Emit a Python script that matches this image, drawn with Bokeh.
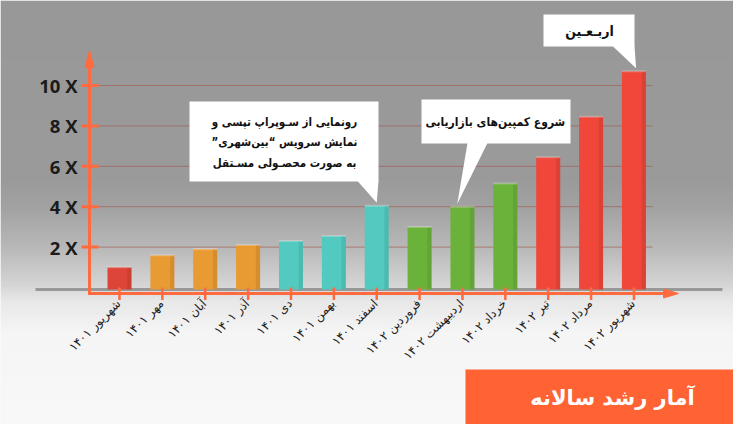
import math
import numpy as np
from bokeh.plotting import figure
from bokeh.models import Range1d, ColumnDataSource
from bokeh.core.properties import value
from bokeh.embed import file_html
from bokeh.resources import INLINE

# ---------------- data ----------------
months = ["شهریور ۱۴۰۱", "مهر ۱۴۰۱", "آبان ۱۴۰۱", "آذر ۱۴۰۱", "دی ۱۴۰۱",
          "بهمن ۱۴۰۱", "اسفند ۱۴۰۱", "فروردین ۱۴۰۲", "اردیبهشت ۱۴۰۲",
          "خرداد ۱۴۰۲", "تیر ۱۴۰۲", "مرداد ۱۴۰۲", "شهریور ۱۴۰۲"]
growth = [1.0, 1.6, 1.9, 2.1, 2.3, 2.55, 4.05, 3.0, 4.0, 5.15, 6.45, 8.45, 10.7]
bar_colors = ["#dc4537", "#e89a33", "#e89a33", "#e89a33", "#52cabf", "#52cabf",
              "#52cabf", "#6bb23a", "#6bb23a", "#6bb23a", "#f0473a", "#f0473a", "#f0473a"]
y_ticks = [2, 4, 6, 8, 10]
y_tick_labels = ["2 X", "4 X", "6 X", "8 X", "10 X"]
title = "آمار رشد سالانه"
RLM = "\u200f"
note1 = [RLM + "رونمایی از سـوپراپ تپسی و" + RLM,
         RLM + "نمایش سرویس “بین\u200cشهری”" + RLM,
         RLM + "به صورت محصـولی مسـتقل" + RLM]
note2 = "شروع کمپین\u200cهای بازاریابی"
note3 = "اربـعـین"
note_bars = [6, 8, 12]

# ---------------- pixel helpers (layout only) ----------------
W, H = 733, 424
X0, DX = 119.0, 42.87
Y0, DY = 287.0, 20.2


def X(px):
    return (px - X0) / DX


def Y(py):
    return (Y0 - py) / DY


AX = "#ff6a3e"
PFONT = value("DejaVu Sans")
CFONT = value("DejaVu Sans Condensed")

p = figure(width=W, height=H, x_range=Range1d(X(0), X(W)), y_range=Range1d(Y(H), Y(0)),
           min_border=0, toolbar_location=None, output_backend="svg",
           x_axis_location=None, y_axis_location=None)
p.outline_line_color = None
p.xgrid.visible = False
p.ygrid.visible = False
p.background_fill_color = "#f8f8f8"
p.border_fill_color = "#f8f8f8"

# ---------------- background gradient ----------------
anchors_y = [0, 180, 206, 246, 285, 300, 330, 424]
anchors_g = [152, 155, 162, 184, 214, 232, 245, 249]
rows = np.arange(H)[::-1]  # row 0 = bottom pixel
g = np.interp(rows + 0.5, anchors_y, anchors_g).astype(np.uint32)
img = np.zeros((H, 1), dtype=np.uint32)
view = img.view(dtype=np.uint8).reshape((H, 1, 4))
view[:, 0, 0] = g
view[:, 0, 1] = g
view[:, 0, 2] = g
view[:, 0, 3] = 255
p.image_rgba(image=[img], x=X(0), y=Y(H), dw=X(W) - X(0), dh=Y(0) - Y(H))

# ---------------- grid lines ----------------
p.segment(x0=X(98), x1=X(652), y0=y_ticks, y1=y_ticks, line_color="#a0675f",
          line_width=1, line_alpha=0.8)

# floor shadow
p.segment(x0=[X(35)], x1=[X(722)], y0=[Y(289)], y1=[Y(289)], line_color="#7c7c7c",
          line_width=3, line_alpha=0.7)

# ---------------- bars ----------------
idx = list(range(len(months)))
src = ColumnDataSource(dict(x=idx, top=growth, color=bar_colors, month=months))
p.vbar(x="x", top="top", bottom=Y(289), width=0.56, fill_color="color",
       line_color=None, source=src)
# subtle side shading for a 3D look
p.vbar(x=[i + 0.23 for i in idx], top=growth, bottom=Y(289), width=0.1,
       fill_color="black", fill_alpha=0.08, line_color=None)
p.vbar(x=idx, top=[v + 0.05 for v in growth], bottom=[v - 0.05 for v in growth],
       width=0.56, fill_color="white", fill_alpha=0.25, line_color=None)

# ---------------- axes ----------------
p.segment(x0=[X(89)], x1=[X(89)], y0=[Y(294.5)], y1=[Y(62)], line_color=AX, line_width=3)
p.patch(x=[X(89), X(84.5), X(93.5)], y=[Y(50), Y(67), Y(67)], fill_color=AX, line_color=AX)
p.segment(x0=[X(87.5)], x1=[X(667)], y0=[Y(293)], y1=[Y(293)], line_color=AX, line_width=3)
p.patch(x=[X(678), X(663), X(663)], y=[Y(293), Y(288.5), Y(297.5)], fill_color=AX, line_color=AX)
# y ticks
p.segment(x0=X(81), x1=X(98), y0=y_ticks, y1=y_ticks, line_color=AX, line_width=3)
# x ticks
p.segment(x0=idx, x1=idx, y0=Y(287), y1=Y(299.5), line_color=AX, line_width=2.5)

# tick labels
p.text(x=X(77), y=y_ticks, text=y_tick_labels, text_align="right", text_baseline="middle",
       text_font=value("Open Sans"), text_font_style="bold", text_font_size="18.5px",
       text_color="#1b1b1b")
p.text(x=[i - 0.02 for i in idx], y=Y(301), text=months, angle=math.pi / 4,
       text_align="right", text_baseline="middle", text_font=PFONT,
       text_font_size="12px", text_color="#1e1e1e")

# ---------------- callouts ----------------
tips_x = [note_bars[0], note_bars[1] - 0.12, note_bars[2] + 0.05]
tips_y = [growth[note_bars[0]] + 0.15, growth[note_bars[1]] + 0.15, growth[note_bars[2]] + 0.15]
p.quad(left=[X(189), X(421), X(543)], right=[X(378), X(570), X(634)],
       top=[Y(101), Y(99), Y(14)], bottom=[Y(181), Y(143), Y(46)],
       fill_color="white", line_color=None)
p.patches(xs=[[X(357), X(378), tips_x[0]],
              [X(467), X(487), tips_x[1]],
              [X(612), X(634), tips_x[2]]],
          ys=[[Y(180.5), Y(180.5), tips_y[0]],
              [Y(142.5), Y(142.5), tips_y[1]],
              [Y(45.5), Y(45.5), tips_y[2]]],
          fill_color="white", line_color=None)
p.text(x=[X(284)] * 3, y=[Y(121), Y(141.5), Y(162)], text=note1, text_align="center",
       text_baseline="middle", text_font=CFONT, text_font_style="bold",
       text_font_size="11.5px", text_color="#111111")
p.text(x=[X(425)], y=[Y(121)], text=[note2], text_align="left", text_baseline="middle",
       text_font=CFONT, text_font_style="bold", text_font_size="12px", text_color="#111111")
p.text(x=[X(589)], y=[Y(30)], text=[note3], text_align="center", text_baseline="middle",
       text_font=CFONT, text_font_style="bold", text_font_size="14px", text_color="#111111")

# ---------------- title box ----------------
p.quad(left=[X(465)], right=[X(W)], top=[Y(369)], bottom=[Y(H)], fill_color="#ff6233",
       line_color=None)
p.text(x=[X(612)], y=[Y(397)], text=[RLM + title + RLM], text_align="center",
       text_baseline="middle", text_font=PFONT, text_font_style="bold",
       text_font_size="21px", text_color="white")

open("out.html", "w").write(file_html(p, INLINE))
